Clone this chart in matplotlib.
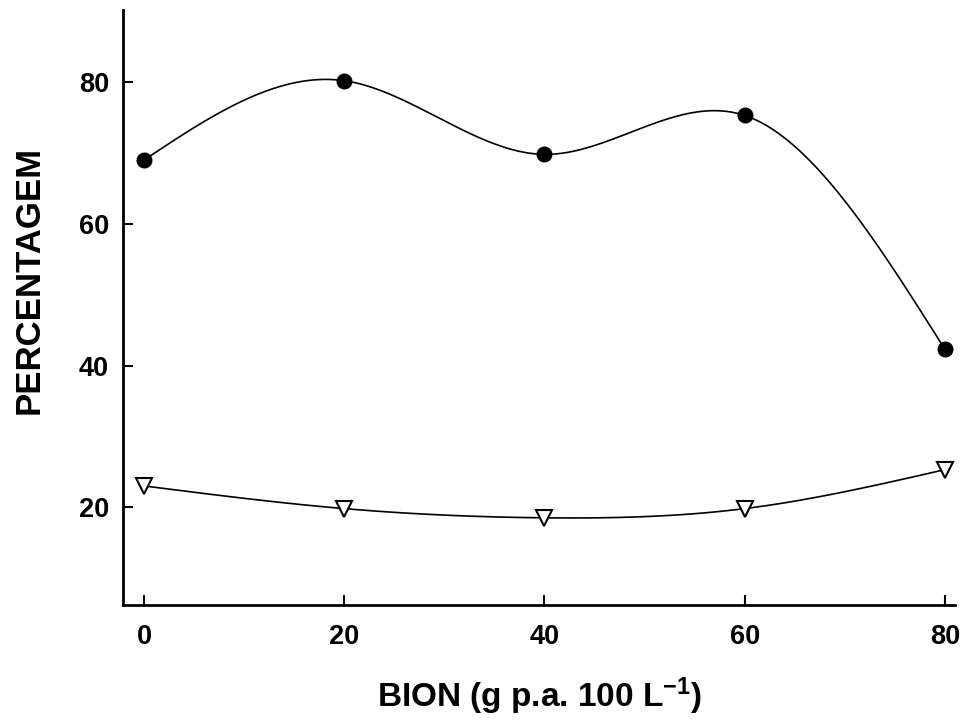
import numpy as np
import matplotlib
matplotlib.use("Agg")
import matplotlib.pyplot as plt

plt.rcParams['font.family'] = ['Liberation Sans', 'DejaVu Sans']
plt.rcParams['font.weight'] = 'bold'
plt.rcParams['mathtext.fontset'] = 'custom'
plt.rcParams['mathtext.rm'] = 'Liberation Sans:bold'
plt.rcParams['mathtext.default'] = 'rm'

doses = [0, 20, 40, 60, 80]
series_circle = [69.0, 80.2, 69.8, 75.3, 42.3]
series_triangle = [23.0, 19.8, 18.5, 19.8, 25.3]
xticks = [0, 20, 40, 60, 80]
yticks = [20, 40, 60, 80]


def natural_spline(x, y, n=300):
    x = np.asarray(x, float); y = np.asarray(y, float)
    k = len(x); h = np.diff(x)
    A = np.zeros((k, k)); b = np.zeros(k)
    A[0, 0] = 1; A[-1, -1] = 1
    for i in range(1, k - 1):
        A[i, i - 1] = h[i - 1]; A[i, i] = 2 * (h[i - 1] + h[i]); A[i, i + 1] = h[i]
        b[i] = 3 * ((y[i + 1] - y[i]) / h[i] - (y[i] - y[i - 1]) / h[i - 1])
    c = np.linalg.solve(A, b)
    xs = np.linspace(x[0], x[-1], n)
    ys = np.empty_like(xs)
    for j, xv in enumerate(xs):
        i = min(np.searchsorted(x, xv, side='right') - 1, k - 2)
        d = xv - x[i]
        bi = (y[i + 1] - y[i]) / h[i] - h[i] * (2 * c[i] + c[i + 1]) / 3
        di = (c[i + 1] - c[i]) / (3 * h[i])
        ys[j] = y[i] + bi * d + c[i] * d ** 2 + di * d ** 3
    return xs, ys


fig = plt.figure(figsize=(9.65, 7.24), dpi=100)
ax = fig.add_axes([0.1275, 0.1644, 0.862, 0.822])

for ys, mk, fc, ms in [(series_circle, 'o', 'black', 10), (series_triangle, 'v', 'white', 11)]:
    sx, sy = natural_spline(doses, ys)
    ax.plot(sx, sy, color='black', lw=1.2, zorder=2)
    ax.plot(doses, ys, linestyle='none', marker=mk, markersize=ms,
            markerfacecolor=fc, markeredgecolor='black', markeredgewidth=1.5, zorder=3)

ax.set_xlim(-2.1, 81.0)
ax.set_ylim(6.2, 90.2)
ax.set_xticks(xticks)
ax.set_yticks(yticks)
ax.tick_params(direction='in', length=7, width=1.5, labelsize=19.5, pad=10)
ax.tick_params(axis='x', pad=14)
for s in ['top', 'right']:
    ax.spines[s].set_visible(False)
for s in ['left', 'bottom']:
    ax.spines[s].set_linewidth(2)
for lab in ax.get_xticklabels() + ax.get_yticklabels():
    lab.set_fontweight('bold')

ax.set_xlabel('BION (g p.a. 100 L$^{-1}$)', fontsize=24, fontweight='bold', labelpad=18)
ax.set_ylabel('PERCENTAGEM', fontsize=25, fontweight='bold', va='center')
ax.yaxis.set_label_coords(-0.113, 0.546)

fig.savefig('out.png', dpi=100)
